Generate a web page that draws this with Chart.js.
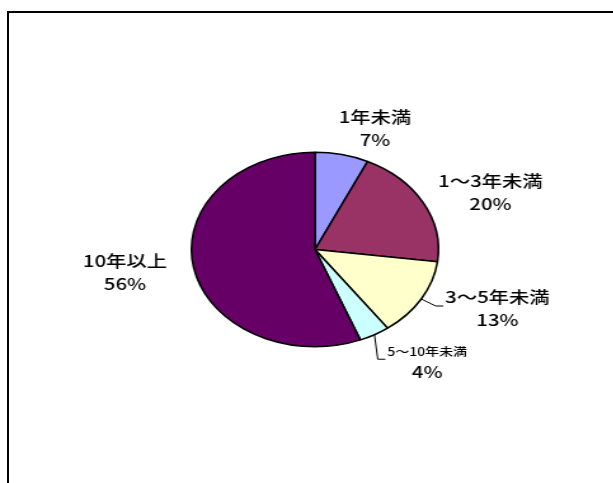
<!DOCTYPE html>
<html lang="ja">
<head>
  <meta charset="UTF-8" />
  <title>勤続年数</title>
  <script src="https://cdn.jsdelivr.net/npm/chart.js"></script>
  <style>
    html, body {
      margin: 0;
      padding: 0;
      width: 613px;
      height: 483px;
      overflow: hidden;
      background: #fff;
    }
    .frame {
      position: absolute;
      left: 7px;
      top: 11px;
      width: 700px;
      height: 600px;
      border-left: 2px solid #000;
      border-top: 2px solid #000;
    }
    /* the chart is drawn narrow and stretched sideways, so the pie comes out as an ellipse */
    .chart-box {
      position: absolute;
      left: 0;
      top: 0;
      width: 483px;
      height: 483px;
      transform: scaleX(1.27);
      transform-origin: 0 0;
    }
  </style>
</head>
<body>
  <div class="frame"></div>
  <div class="chart-box">
    <canvas id="yearsChart"></canvas>
  </div>

  <script>
    const categories = ['1年未満', '1～3年未満', '3～5年未満', '5～10年未満', '10年以上'];
    const shares = [7, 20, 13, 4, 56];
    const sliceColors = ['#9999FF', '#993366', '#FFFFCC', '#CCFFFF', '#660066'];

    // label placement relative to the outer middle of each slice
    const labelShift = [[26, -26], [53, -10], [60, 9.5], [41.5, 27], [-54, 4.5]];
    const labelSize = [16, 16, 16, 11, 16];
    const hasLeader = [false, false, true, true, false];
    const FONT = '"Noto Sans CJK JP", "Noto Sans", sans-serif';

    const sliceLabels = {
      id: 'sliceLabels',
      afterDatasetsDraw(chart) {
        const ctx = chart.ctx;
        const arcs = chart.getDatasetMeta(0).data;
        ctx.save();
        ctx.fillStyle = '#000';
        ctx.strokeStyle = '#000';
        ctx.lineWidth = 1;
        ctx.textBaseline = 'middle';
        ctx.textAlign = 'center';
        arcs.forEach((arc, i) => {
          const p = arc.getProps(['x', 'y', 'startAngle', 'endAngle', 'outerRadius'], true);
          const mid = (p.startAngle + p.endAngle) / 2;
          const ox = p.x + Math.cos(mid) * p.outerRadius;
          const oy = p.y + Math.sin(mid) * p.outerRadius;
          const cx = ox + labelShift[i][0];
          const cy = oy + labelShift[i][1];
          const gap = labelSize[i] < 14 ? 10 : 11.5;

          ctx.font = '500 ' + labelSize[i] + 'px ' + FONT;
          const w = ctx.measureText(categories[i]).width;
          ctx.fillText(categories[i], cx, cy - gap);
          ctx.font = '500 16px ' + FONT;
          ctx.fillText(shares[i] + '%', cx, cy + gap);

          if (hasLeader[i]) {
            const ex = cx - w / 2 - 1.5;
            const ey = cy - 2.5;
            ctx.beginPath();
            ctx.moveTo(ox, oy);
            ctx.lineTo(ex - 6, ey);
            ctx.lineTo(ex, ey);
            ctx.stroke();
          }
        });
        ctx.restore();
      }
    };

    new Chart(document.getElementById('yearsChart'), {
      type: 'pie',
      data: {
        labels: categories,
        datasets: [{
          data: shares,
          backgroundColor: sliceColors,
          borderColor: '#000',
          borderWidth: 1.5
        }]
      },
      options: {
        responsive: true,
        maintainAspectRatio: false,
        animation: false,
        layout: {
          padding: { left: 150, right: 137, top: 151.5, bottom: 135.5 }
        },
        plugins: {
          legend: { display: false },
          tooltip: { enabled: false }
        }
      },
      plugins: [sliceLabels]
    });
  </script>
</body>
</html>
